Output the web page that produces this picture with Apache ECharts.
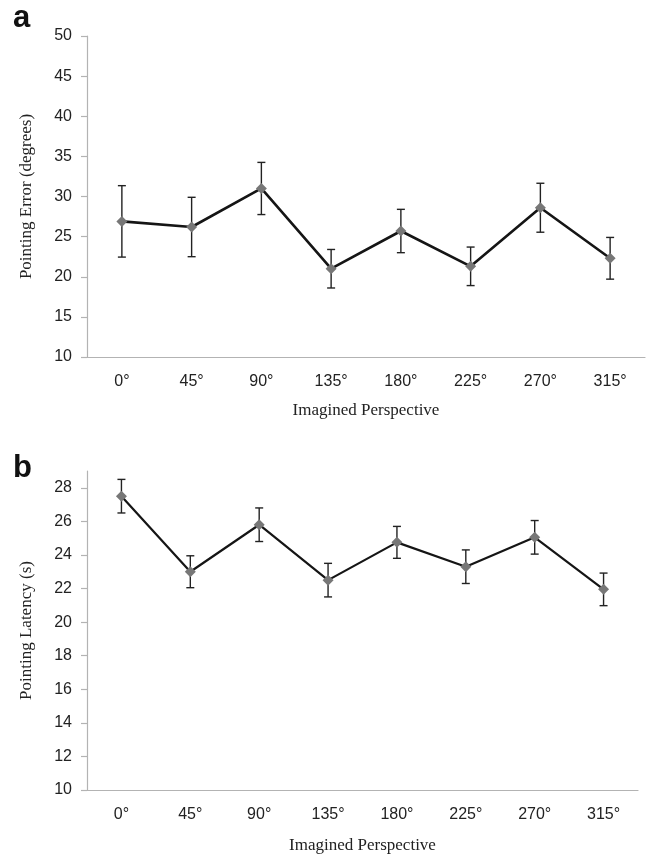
<!DOCTYPE html>
<html>
<head>
<meta charset="utf-8">
<script src="https://cdn.jsdelivr.net/npm/echarts@6/dist/echarts.min.js"></script>
<style>
  html, body { margin: 0; padding: 0; background: #fff; }
  #chart { width: 647px; height: 857px; }
</style>
</head>
<body>
<div id="chart"></div>
<script>
const categories = ['0°', '45°', '90°', '135°', '180°', '225°', '270°', '315°'];

// panel a: pointing error (degrees)
const errorMean = [26.9, 26.2, 31.0, 21.0, 25.7, 21.3, 28.6, 22.3];
const errorSE = [4.45, 3.7, 3.25, 2.4, 2.7, 2.4, 3.05, 2.6];
const errorTicks = [10, 15, 20, 25, 30, 35, 40, 45, 50];

// panel b: pointing latency (s)
const latencyMean = [27.5, 23.0, 25.8, 22.5, 24.75, 23.3, 25.05, 21.95];
const latencySE = [1.0, 0.95, 1.0, 1.0, 0.95, 1.0, 1.0, 0.97];
const latencyTicks = [10, 12, 14, 16, 18, 20, 22, 24, 26, 28];

const axisGray = '#b3b3b3';
const labelFont = { fontFamily: 'Liberation Sans, Arial', fontSize: 16, color: '#222' };
const nameFont = { fontFamily: 'Liberation Serif, Times New Roman', fontSize: 17, color: '#222' };

function barData(mean, se) {
  return mean.map((m, i) => [i, m - se[i], m + se[i]]);
}

function errorBarItem(params, api) {
  const x = api.value(0);
  const top = api.coord([x, api.value(2)]);
  const bot = api.coord([x, api.value(1)]);
  const hw = 4;
  const style = { stroke: '#222', lineWidth: 1.4 };
  return {
    type: 'group',
    children: [
      { type: 'line', shape: { x1: top[0], y1: top[1], x2: bot[0], y2: bot[1] }, style },
      { type: 'line', shape: { x1: top[0] - hw, y1: top[1], x2: top[0] + hw, y2: top[1] }, style },
      { type: 'line', shape: { x1: bot[0] - hw, y1: bot[1], x2: bot[0] + hw, y2: bot[1] }, style },
    ],
  };
}

function xAxis(gridIndex, gap) {
  return {
    type: 'category',
    gridIndex,
    data: categories,
    name: 'Imagined Perspective',
    nameLocation: 'middle',
    nameGap: gap,
    nameTextStyle: nameFont,
    axisLine: { lineStyle: { color: axisGray, width: 1.2 } },
    axisTick: { length: 5, lineStyle: { color: axisGray, width: 1.2 } },
    axisLabel: { ...labelFont, margin: 17 },
    splitLine: { show: false },
  };
}

function yAxis(gridIndex, name, min, max, ticks) {
  return {
    type: 'value',
    gridIndex,
    min,
    max,
    name,
    nameLocation: 'middle',
    nameGap: 52,
    nameTextStyle: nameFont,
    axisLine: { show: true, lineStyle: { color: axisGray, width: 1.2 } },
    axisTick: { show: true, length: 6, customValues: ticks, lineStyle: { color: axisGray, width: 1.2 } },
    axisLabel: { ...labelFont, margin: 15, customValues: ticks },
    splitLine: { show: false },
  };
}

function lineSeries(idx, mean, width) {
  return {
    type: 'line',
    xAxisIndex: idx,
    yAxisIndex: idx,
    data: mean,
    symbol: 'diamond',
    symbolSize: 11,
    z: 3,
    lineStyle: { color: '#151515', width },
    itemStyle: { color: '#777' },
    animation: false,
  };
}

function barSeries(idx, mean, se) {
  return {
    type: 'custom',
    xAxisIndex: idx,
    yAxisIndex: idx,
    data: barData(mean, se),
    renderItem: errorBarItem,
    z: 2,
    animation: false,
  };
}

const chart = echarts.init(document.getElementById('chart'));
chart.setOption({
  animation: false,
  grid: [
    { left: 87, top: 36, width: 558, height: 321 },
    { left: 87, top: 471, width: 551, height: 319 },
  ],
  xAxis: [xAxis(0, 45), xAxis(1, 47)],
  yAxis: [
    yAxis(0, 'Pointing Error (degrees)', 10, 50, errorTicks),
    yAxis(1, 'Pointing Latency (s)', 10, 29, latencyTicks),
  ],
  graphic: [
    { type: 'text', left: 13, top: 3, style: { text: 'a', font: 'bold 31px Liberation Sans, Arial', fill: '#111' } },
    { type: 'text', left: 13, top: 453, style: { text: 'b', font: 'bold 31px Liberation Sans, Arial', fill: '#111' } },
  ],
  series: [
    barSeries(0, errorMean, errorSE),
    lineSeries(0, errorMean, 2.6),
    barSeries(1, latencyMean, latencySE),
    lineSeries(1, latencyMean, 2.2),
  ],
});
</script>
</body>
</html>
